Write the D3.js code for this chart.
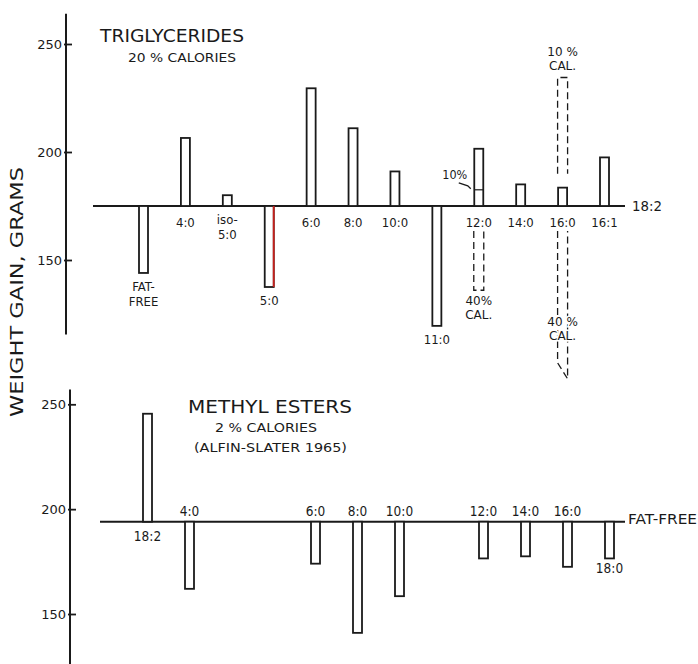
<!DOCTYPE html>
<html>
<head>
<meta charset="utf-8">
<script src="https://cdn.jsdelivr.net/npm/d3@7"></script>
<style>
  body { margin: 0; background: #fff; }
  text { font-family: "DejaVu Sans Condensed", "Liberation Sans Narrow", "DejaVu Sans", sans-serif; fill: #1a1a1a; }
</style>
</head>
<body>
<svg width="698" height="664"></svg>
<script>
// ---- data ----
// upper panel: triglycerides, 20% calories, baseline = 18:2
var topCats = ["FAT-FREE", "4:0", "iso-5:0", "5:0", "6:0", "8:0", "10:0", "11:0", "12:0", "14:0", "16:0", "16:1"];
var topValues = [144, 206.5, 180, 137.5, 229.5, 211, 191, 119.5, 201.5, 185, 183.5, 197.5];
var topBase = 175;
// extra dashed bars (other calorie levels)
var dashCats = ["12:0", "16:0", "16:0"];
var dashValues = [136, 234.5, 95];
var dashLabels = [["40%", "CAL."], ["10 %", "CAL."], ["40 %", "CAL."]];
var tenPctValue = 182.5; // 12:0 at 10% calories (mark inside bar)

// lower panel: methyl esters, 2% calories, baseline = fat-free
var botCats = ["18:2", "4:0", "6:0", "8:0", "10:0", "12:0", "14:0", "16:0", "18:0"];
var botSlots = [0, 1, 4, 5, 6, 8, 9, 10, 11];
var botValues = [245.5, 162, 174, 141, 158.5, 176.5, 177.5, 172.5, 176.5];
var botBase = 194;

var yTicks = [150, 200, 250];

var svg = d3.select("svg");
var ink = "#1a1a1a";
var barW = 9;
var wide = "'DejaVu Sans', sans-serif";

// scales
var xTop = d3.scaleLinear().domain([0, 11]).range([143.5, 604.5]);
var xBot = d3.scaleLinear().domain([0, 11]).range([147.5, 609.5]);
var yTop = d3.scaleLinear().domain([150, 250]).range([260, 44]);
var yBot = d3.scaleLinear().domain([150, 250]).range([614, 404.3]);

function drawAxis(y, x0, extent) {
    var g = svg.append("g").attr("transform", "translate(" + x0 + ",0)");
    g.call(d3.axisLeft(y).tickValues(yTicks).tickSize(-6).tickPadding(4));
    g.select(".domain").remove();
    g.selectAll(".tick line").attr("x1", -2).attr("stroke", ink).attr("stroke-width", 1.8);
    g.selectAll(".tick text").style("font-size", "13px")
        .style("font-family", wide).attr("fill", ink);
    g.append("line")
        .attr("y1", y(extent[0])).attr("y2", y(extent[1]))
        .attr("stroke", ink).attr("stroke-width", 2);
}

drawAxis(yTop, 66, [264, 115.5]);
drawAxis(yBot, 70, [257, 120]);

// titles with fixed widths, like the hand lettering
function title(g, x, y, size, len, s) {
    g.append("text").attr("x", x).attr("y", y)
        .attr("font-size", size)
        .style("font-family", wide)
        .attr("textLength", len).attr("lengthAdjust", "spacingAndGlyphs")
        .text(s);
}

// y title
svg.append("text")
    .attr("transform", "translate(23,292) rotate(-90)")
    .attr("text-anchor", "middle")
    .attr("font-size", 18)
    .attr("textLength", 250)
    .attr("lengthAdjust", "spacingAndGlyphs")
    .text("WEIGHT GAIN, GRAMS");

// ---- upper panel ----
var gTop = svg.append("g");

gTop.append("line")
    .attr("x1", 93).attr("x2", 625)
    .attr("y1", yTop(topBase)).attr("y2", yTop(topBase))
    .attr("stroke", ink).attr("stroke-width", 2);

gTop.selectAll("rect.bar").data(topValues).enter().append("rect")
    .attr("class", "bar")
    .attr("x", function (d, i) { return xTop(i) - barW / 2; })
    .attr("y", function (d) { return yTop(Math.max(d, topBase)); })
    .attr("width", barW)
    .attr("height", function (d) { return Math.abs(yTop(d) - yTop(topBase)); })
    .attr("fill", "#fff")
    .attr("stroke", ink)
    .attr("stroke-width", 1.8);

// red right edge of the 5:0 bar (as in the scan)
var i50 = topCats.indexOf("5:0");
gTop.append("line")
    .attr("x1", xTop(i50) + barW / 2).attr("x2", xTop(i50) + barW / 2)
    .attr("y1", yTop(topBase)).attr("y2", yTop(topValues[i50]))
    .attr("stroke", "#c8201c").attr("stroke-width", 1.8);

// category labels
topCats.forEach(function (c, i) {
    var v = topValues[i];
    var lines = c === "FAT-FREE" ? ["FAT-", "FREE"] : c === "iso-5:0" ? ["iso-", "5:0"] : [c];
    var y0 = v > topBase ? yTop(topBase) + 21 : yTop(v) + 18;
    if (c === "iso-5:0") y0 = yTop(topBase) + 18;
    var t = gTop.append("text")
        .attr("x", xTop(i))
        .attr("text-anchor", "middle")
        .attr("font-size", 13);
    lines.forEach(function (l, k) {
        t.append("tspan").attr("x", xTop(i)).attr("y", y0 + k * 15).text(l);
    });
});

// 10% mark in 12:0 bar
var i12 = topCats.indexOf("12:0");
gTop.append("line")
    .attr("x1", xTop(i12) - barW / 2).attr("x2", xTop(i12) + barW / 2)
    .attr("y1", yTop(tenPctValue)).attr("y2", yTop(tenPctValue))
    .attr("stroke", ink).attr("stroke-width", 1.2);
gTop.append("text")
    .attr("x", xTop(i12) - 24).attr("y", yTop(tenPctValue) - 11)
    .attr("text-anchor", "middle").attr("font-size", 12.5)
    .text("10%");
gTop.append("path")
    .attr("d", "M" + (xTop(i12) - 20) + "," + (yTop(tenPctValue) - 7) +
        " L" + (xTop(i12) - 11) + "," + (yTop(tenPctValue) - 4) +
        " L" + (xTop(i12) - 8) + "," + (yTop(tenPctValue) - 1))
    .attr("fill", "none").attr("stroke", ink).attr("stroke-width", 1.3);

// dashed bars for other calorie levels
dashCats.forEach(function (c, k) {
    var i = topCats.indexOf(c);
    var v = dashValues[k];
    var up = v > topBase;
    var cx = xTop(i);
    var l = cx - 5, r = cx + 5;
    var yStart = up ? yTop(topValues[i]) - 14 : yTop(topBase) + 25;
    var yEnd = yTop(v);
    var d;
    if (k === 2) {
        d = "M" + l + "," + yStart + " V" + (yEnd - 16) + " L" + r + "," + yEnd + " V" + yStart;
    } else {
        d = "M" + l + "," + yStart + " V" + yEnd + " H" + r + " V" + yStart;
    }
    gTop.append("path")
        .attr("d", d)
        .attr("fill", "none").attr("stroke", ink)
        .attr("stroke-width", 1.3).attr("stroke-dasharray", "7,4");

    var ly = up ? yEnd - 21 : (k === 0 ? yEnd + 15 : yTop(topBase) + 120);
    var t = gTop.append("text")
        .attr("text-anchor", "middle").attr("font-size", 12)
        .style("font-family", wide)
        .attr("stroke", "#fff").attr("stroke-width", 3).attr("paint-order", "stroke");
    dashLabels[k].forEach(function (s, j) {
        t.append("tspan").attr("x", cx).attr("y", ly + j * 14).text(s);
    });
});

gTop.append("text")
    .attr("x", 632).attr("y", yTop(topBase) + 5)
    .attr("font-size", 14).attr("fill", "#444")
    .style("font-family", wide)
    .attr("textLength", 30).attr("lengthAdjust", "spacingAndGlyphs")
    .text("18:2");

title(gTop, 100, 42, 18, 144, "TRIGLYCERIDES");
title(gTop, 128, 62, 12, 108, "20 % CALORIES");

// ---- lower panel ----
var gBot = svg.append("g");

gBot.append("line")
    .attr("x1", 100).attr("x2", 625)
    .attr("y1", yBot(botBase)).attr("y2", yBot(botBase))
    .attr("stroke", ink).attr("stroke-width", 2);

gBot.selectAll("rect.bar").data(botValues).enter().append("rect")
    .attr("class", "bar")
    .attr("x", function (d, i) { return xBot(botSlots[i]) - barW / 2; })
    .attr("y", function (d) { return yBot(Math.max(d, botBase)); })
    .attr("width", barW)
    .attr("height", function (d) { return Math.abs(yBot(d) - yBot(botBase)); })
    .attr("fill", "#fff")
    .attr("stroke", ink)
    .attr("stroke-width", 1.8);

botCats.forEach(function (c, i) {
    var v = botValues[i];
    var y;
    if (c === "18:0") y = yBot(v) + 15;
    else if (v > botBase) y = yBot(botBase) + 19;
    else y = yBot(botBase) - 6;
    gBot.append("text")
        .attr("x", xBot(botSlots[i])).attr("y", y)
        .attr("text-anchor", "middle").attr("font-size", 13.5)
        .text(c);
});

gBot.append("text")
    .attr("x", 628).attr("y", yBot(botBase) + 2)
    .attr("font-size", 14).attr("fill", "#333")
    .style("font-family", wide)
    .attr("textLength", 69).attr("lengthAdjust", "spacingAndGlyphs")
    .text("FAT-FREE");

title(gBot, 188, 413, 17, 164, "METHYL ESTERS");
title(gBot, 215, 432, 12, 102, "2 % CALORIES");
title(gBot, 194, 452, 12.5, 153, "(ALFIN-SLATER 1965)");
</script>
</body>
</html>
